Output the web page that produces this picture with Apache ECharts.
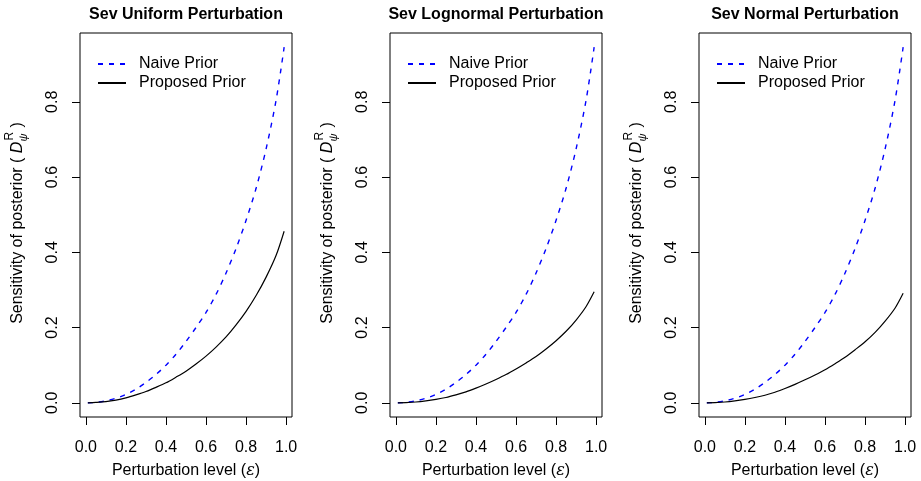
<!DOCTYPE html>
<html>
<head>
<meta charset="utf-8">
<script src="https://cdn.jsdelivr.net/npm/echarts@6/dist/echarts.min.js"></script>
<style>
  html, body { margin: 0; padding: 0; background: #fff; }
  #chart { width: 921px; height: 481px; }
</style>
</head>
<body>
<div id="chart"></div>
<script>
'use strict';

// perturbation levels (x) shared by every curve
var epsLevels = [0.01, 0.05, 0.10, 0.15, 0.20, 0.25, 0.30, 0.35, 0.40, 0.45, 0.50,
  0.55, 0.60, 0.65, 0.70, 0.75, 0.80, 0.85, 0.90, 0.95, 0.99];

// naive prior looks the same in all three panels
var naiveUniform = [0.000, 0.001, 0.005, 0.012, 0.022, 0.036, 0.054, 0.075, 0.100, 0.129, 0.163,
  0.200, 0.240, 0.288, 0.345, 0.410, 0.485, 0.570, 0.675, 0.805, 0.945];
var naiveLognormal = naiveUniform.slice();
var naiveNormal = naiveUniform.slice();

var proposedUniform = [0.000, 0.001, 0.003, 0.007, 0.013, 0.021, 0.030, 0.041, 0.053, 0.068, 0.084,
  0.103, 0.124, 0.148, 0.175, 0.207, 0.243, 0.285, 0.334, 0.392, 0.456];
var proposedLognormal = [0.000, 0.0005, 0.002, 0.005, 0.009, 0.014, 0.021, 0.029, 0.039, 0.050, 0.062,
  0.075, 0.090, 0.106, 0.123, 0.143, 0.165, 0.190, 0.220, 0.256, 0.295];
var proposedNormal = [0.000, 0.0005, 0.002, 0.005, 0.009, 0.014, 0.020, 0.028, 0.038, 0.049, 0.061,
  0.074, 0.088, 0.104, 0.121, 0.141, 0.162, 0.187, 0.217, 0.252, 0.291];

var panelTitles = ['Sev Uniform Perturbation', 'Sev Lognormal Perturbation', 'Sev Normal Perturbation'];
var xTicks = [0, 0.2, 0.4, 0.6, 0.8, 1.0];
var yTicks = [0, 0.2, 0.4, 0.6, 0.8];

var FONT = '"Liberation Sans", Arial, Helvetica, sans-serif';
var gridLefts = [80, 390, 699];
var gridWidth = 212;
var gridTop = 33;
var gridHeight = 384;

function pairs(ys) {
  return epsLevels.map(function (x, i) { return [x, ys[i]]; });
}

var naiveSets = [naiveUniform, naiveLognormal, naiveNormal];
var proposedSets = [proposedUniform, proposedLognormal, proposedNormal];

var measureCtx = document.createElement('canvas').getContext('2d');
function textWidth(str, size, style) {
  measureCtx.font = (style || '') + ' ' + size + 'px ' + FONT;
  return measureCtx.measureText(str).width;
}

// y-axis name with D^R_psi, built as a rotated group
function yNameGroup(cx, cy) {
  var part1 = 'Sensitivity of posterior ( ';
  var w1 = textWidth(part1, 16);
  var wD = textWidth('D', 16, 'italic');
  var wR = textWidth('R', 12);
  var wPsi = textWidth('\u03c8', 11, 'italic');
  var wScript = Math.max(wR, wPsi) + 1;
  var part2 = ' )';
  var total = w1 + wD + wScript + textWidth(part2, 16);
  var x0 = -total / 2;
  function t(text, x, y, size, style) {
    return {
      type: 'text', x: x, y: y, silent: true,
      style: {
        text: text, fill: '#000', fontFamily: FONT, fontSize: size,
        fontStyle: style || 'normal', verticalAlign: 'middle', align: 'left'
      }
    };
  }
  return {
    type: 'group', x: cx, y: cy, rotation: Math.PI / 2, silent: true,
    children: [
      t(part1, x0, 0, 16),
      t('D', x0 + w1, 0, 16, 'italic'),
      t('R', x0 + w1 + wD + 1, -8, 12),
      t('\u03c8', x0 + w1 + wD, 6, 11, 'italic'),
      t(part2, x0 + w1 + wD + wScript, 0, 16)
    ]
  };
}

var grids = [], xAxes = [], yAxes = [], series = [], legends = [], graphics = [];

gridLefts.forEach(function (left, p) {
  grids.push({
    left: left, top: gridTop, width: gridWidth, height: gridHeight,
    show: true, borderColor: '#000', borderWidth: 1, backgroundColor: 'transparent'
  });
  xAxes.push({
    type: 'value', gridIndex: p, min: -0.0292, max: 1.0292, position: 'bottom',
    axisLine: { show: false, onZero: false },
    splitLine: { show: false },
    axisTick: { show: true, inside: false, length: 8, customValues: xTicks, lineStyle: { color: '#000', width: 1 } },
    axisLabel: {
      customValues: xTicks, margin: 23, color: '#000', fontSize: 16, fontFamily: FONT,
      formatter: function (v) { return v.toFixed(1); }
    }
  });
  yAxes.push({
    type: 'value', gridIndex: p, min: -0.0378, max: 0.9828, position: 'left',
    axisLine: { show: false, onZero: false },
    splitLine: { show: false },
    axisTick: { show: true, inside: false, length: 8, customValues: yTicks, lineStyle: { color: '#000', width: 1 } },
    axisLabel: {
      customValues: yTicks, margin: 19, rotate: 90, color: '#000', fontSize: 16, fontFamily: FONT,
      formatter: function (v) { return v.toFixed(1); }
    }
  });
  series.push({
    name: 'Naive Prior', type: 'line', xAxisIndex: p, yAxisIndex: p,
    data: pairs(naiveSets[p]), smooth: 0.3, symbol: 'none', showSymbol: false,
    lineStyle: { color: '#0000ff', width: 1.4, type: [5, 6] },
    itemStyle: { color: '#0000ff' }
  });
  series.push({
    name: 'Proposed Prior', type: 'line', xAxisIndex: p, yAxisIndex: p,
    data: pairs(proposedSets[p]), smooth: 0.3, symbol: 'none', showSymbol: false,
    lineStyle: { color: '#000', width: 1.2, type: 'solid' },
    itemStyle: { color: '#000' }
  });
  legends.push({
    left: left + 12, top: 51, orient: 'vertical', itemGap: 3,
    itemWidth: 28, itemHeight: 14,
    data: ['Naive Prior', 'Proposed Prior'],
    itemStyle: { opacity: 0 },
    textStyle: { fontSize: 16, fontFamily: FONT, color: '#000', padding: [0, 0, 0, 8] },
    selectedMode: false
  });
  var cx = left + gridWidth / 2;
  graphics.push({
    type: 'text', x: cx, y: 15, silent: true,
    style: { text: panelTitles[p], fill: '#000', fontSize: 16, fontWeight: 'bold', fontFamily: FONT, align: 'center', verticalAlign: 'middle' }
  });
  graphics.push({
    type: 'text', x: cx, y: 471, silent: true,
    style: {
      text: 'Perturbation level ({e|\u03b5})', fill: '#000', fontSize: 16, fontFamily: FONT,
      align: 'center', verticalAlign: 'middle',
      rich: { e: { fontSize: 16, fontStyle: 'italic', fontFamily: '"DejaVu Serif", serif', fill: '#000' } }
    }
  });
  graphics.push(yNameGroup(left - 62, 223));
});

var myChart = echarts.init(document.getElementById('chart'), null, { renderer: 'canvas' });
myChart.setOption({
  animation: false,
  backgroundColor: '#fff',
  grid: grids,
  xAxis: xAxes,
  yAxis: yAxes,
  legend: legends,
  series: series,
  graphic: graphics
});
</script>
</body>
</html>
